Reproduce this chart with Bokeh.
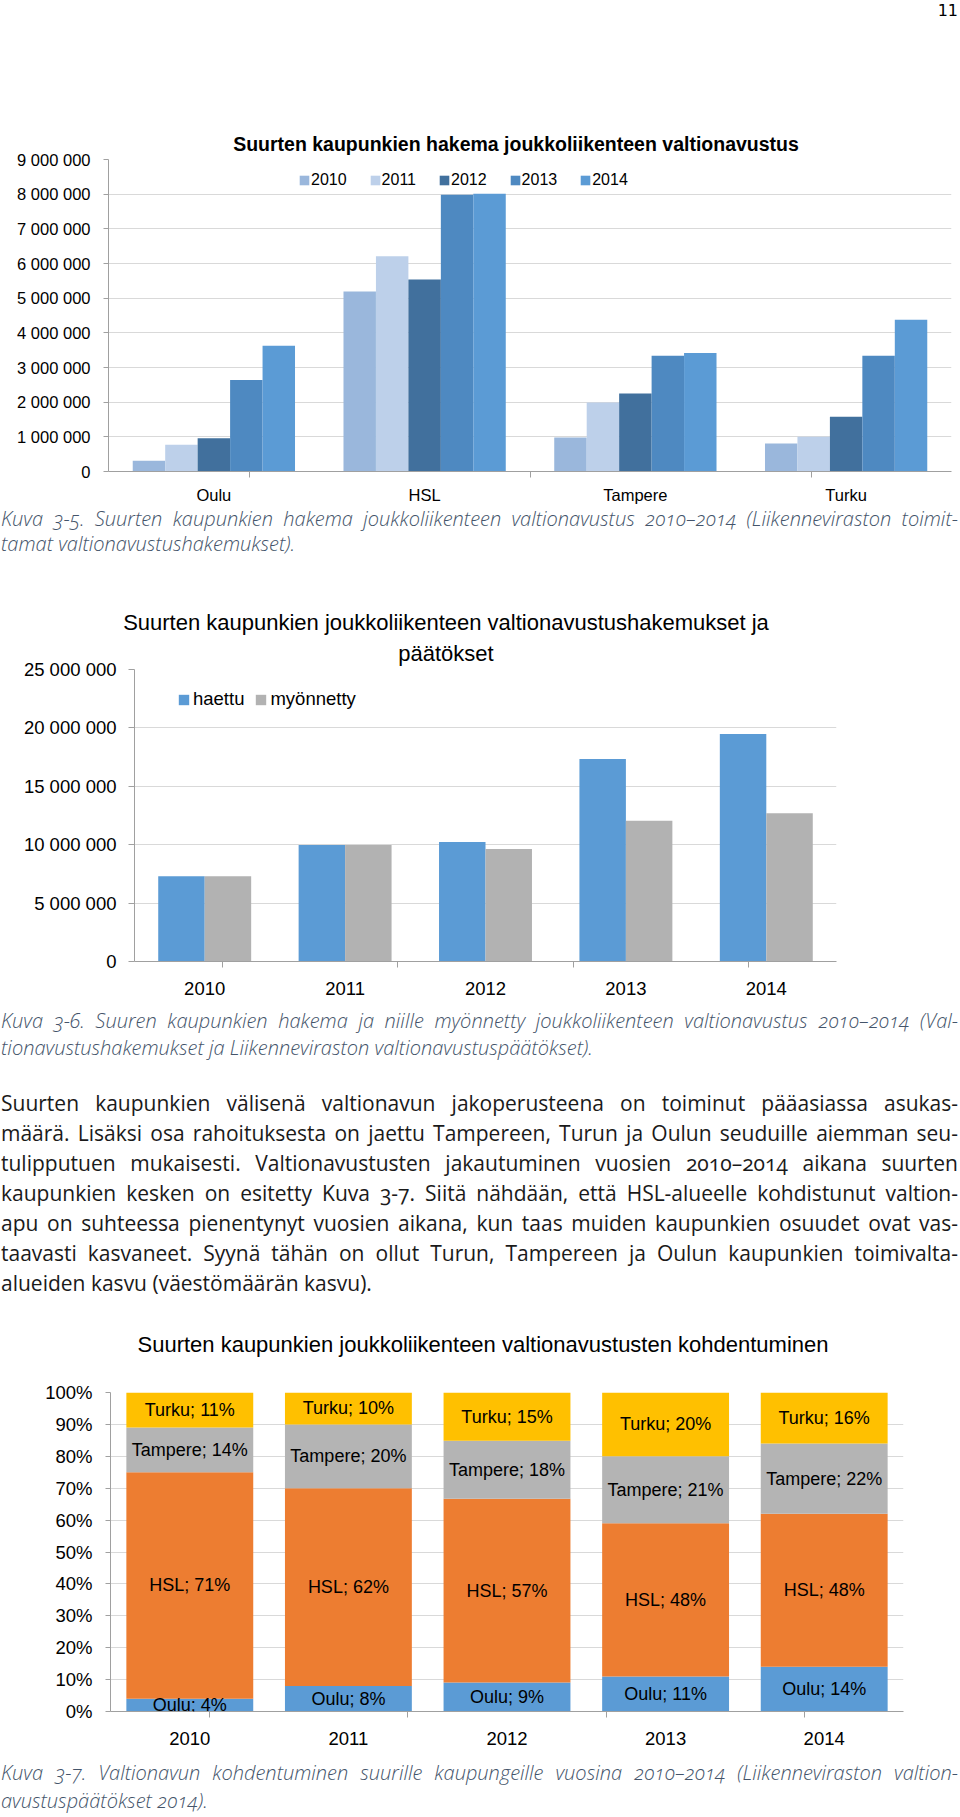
from bokeh.plotting import figure
from bokeh.models import (FactorRange, Range1d, CategoricalAxis, FixedTicker,
                          Legend, LegendItem, LabelSet, ColumnDataSource, Div)
from bokeh.layouts import column, row
from bokeh.transform import dodge
from bokeh.core.properties import value
from bokeh.embed import file_html
from bokeh.resources import INLINE

# ---------------- data: chart 1 (hakema valtionavustus per city, by year)
cities = ["Oulu", "HSL", "Tampere", "Turku"]
years = ["2010", "2011", "2012", "2013", "2014"]
haku_2010 = [310_000, 5_190_000, 980_000, 810_000]
haku_2011 = [770_000, 6_210_000, 1_990_000, 1_000_000]
haku_2012 = [960_000, 5_540_000, 2_250_000, 1_580_000]
haku_2013 = [2_640_000, 7_980_000, 3_340_000, 3_340_000]
haku_2014 = [3_630_000, 8_010_000, 3_420_000, 4_380_000]
y1_ticks = [0, 1_000_000, 2_000_000, 3_000_000, 4_000_000, 5_000_000,
            6_000_000, 7_000_000, 8_000_000, 9_000_000]

# ---------------- data: chart 2 (haettu vs myönnetty)
haettu = [7_290_000, 9_980_000, 10_240_000, 17_330_000, 19_480_000]
myonnetty = [7_290_000, 9_980_000, 9_640_000, 12_040_000, 12_700_000]
y2_ticks = [0, 5_000_000, 10_000_000, 15_000_000, 20_000_000, 25_000_000]

# ---------------- data: chart 3 (kohdentuminen, %)
osuus_oulu = [4, 8, 9, 11, 14]
osuus_hsl = [71, 62, 57, 48, 48]
osuus_tampere = [14, 20, 18, 21, 22]
osuus_turku = [11, 10, 15, 20, 16]
y3_ticks = [0, 10, 20, 30, 40, 50, 60, 70, 80, 90, 100]

FONT = "Liberation Sans"
AX = "#A0A0A0"
GRID = "#D9D9D9"
W = 960


def fmt(v):
    return f"{int(v):,}".replace(",", " ")


def make_fig(factors, ymax, height, left, right, top, bottom, yticks, ylabels,
             font_size, y_standoff, x_standoff, tick_out):
    p = figure(x_range=FactorRange(factors=factors), y_range=Range1d(0, ymax),
               width=W, height=height, min_border_left=left, min_border_right=right,
               min_border_top=top, min_border_bottom=bottom, output_backend="svg",
               toolbar_location=None, x_axis_location=None, y_axis_location="left")
    p.outline_line_color = None
    p.border_fill_color = None
    p.xgrid.visible = False
    p.ygrid.grid_line_color = GRID
    ya = p.yaxis[0]
    ya.ticker = FixedTicker(ticks=yticks)
    ya.major_label_overrides = {t: lab for t, lab in zip(yticks, ylabels)}
    ya.axis_line_color = AX
    ya.major_tick_line_color = AX
    ya.major_tick_out = tick_out
    ya.major_tick_in = 0
    ya.minor_tick_line_color = None
    ya.major_label_standoff = y_standoff
    ya.major_label_text_font = FONT
    ya.major_label_text_font_size = font_size
    ya.major_label_text_color = "black"
    # category-boundary ticks: a second factor range whose factors sit on the boundaries
    n = len(factors)
    bnames = [f"b{i}" for i in range(n + 1)]
    p.extra_x_ranges = {"bnd": FactorRange(factors=bnames, range_padding=-1,
                                           range_padding_units="absolute")}
    bax = CategoricalAxis(x_range_name="bnd", major_label_text_font_size="0px",
                          major_label_standoff=0, major_tick_out=6, major_tick_in=0,
                          axis_line_color=AX, major_tick_line_color=AX,
                          major_label_text_color=None)
    p.add_layout(bax, "below")
    cax = CategoricalAxis(axis_line_color=None, major_tick_line_color=None, major_tick_out=0,
                          major_tick_in=0, major_label_standoff=x_standoff,
                          major_label_text_font=FONT, major_label_text_font_size=font_size,
                          major_label_text_color="black")
    p.add_layout(cax, "below")
    p.margin = 0
    return p


def title_div(height, items):
    # items: (text, center_x, center_y, font, size, weight, line_height, align)
    inner = []
    for txt, cx, cy, font, size, weight, lh, al in items:
        if al == "center":
            pos = f"left:{cx - 450}px;width:900px;text-align:center;"
        else:
            pos = f"right:{W - cx}px;text-align:right;"
        inner.append(f'<div style="position:absolute;top:{cy - lh / 2}px;{pos}'
                     f'font-family:\'{font}\';font-size:{size}px;font-weight:{weight};'
                     f'line-height:{lh}px;color:black;white-space:nowrap;">{txt}</div>')
    html = f'<div style="position:relative;width:{W}px;height:{height}px;">' + "".join(inner) + "</div>"
    return Div(text=html, width=W, height=height, margin=0, styles={"overflow": "visible"})


def block(lines, font, size, lh, color, italic, pad, height, weight=400):
    parts = []
    for i, ln in enumerate(lines):
        al = "left" if i == len(lines) - 1 else "justify"
        parts.append(f'<div style="text-align:{al};text-align-last:{al};white-space:nowrap;">{ln}</div>')
    html = (f'<div style="width:957px;margin-left:1px;font-family:\'{font}\';font-size:{size}px;'
            f'line-height:{lh}px;color:{color};font-style:{"italic" if italic else "normal"};'
            f'font-weight:{weight};padding-top:{pad}px;font-variant-numeric:oldstyle-nums;">'
            + "".join(parts) + "</div>")
    return Div(text=html, width=W, height=height, margin=0, styles={"overflow": "visible"})


# ================= chart 1
head1 = title_div(150, [("11", 958, 11, "DejaVu Sans", 16, 400, 18, "right"),
                        ("Suurten kaupunkien hakema joukkoliikenteen valtionavustus",
                         516, 144, FONT, 19.5, 700, 24, "center")])
p1 = make_fig(cities, 9_000_000, 356, 108, 9, 9, 35, y1_ticks,
              [fmt(t) for t in y1_ticks], "16.5px", 13, 8, 5)
src1 = ColumnDataSource(dict(city=cities, y2010=haku_2010, y2011=haku_2011,
                             y2012=haku_2012, y2013=haku_2013, y2014=haku_2014))
pal1 = ["#9AB7DC", "#BDD0EA", "#41709D", "#4E89C1", "#5B9BD5"]
bw1 = 0.154
items1 = []
for i, y in enumerate(years):
    r = p1.vbar(x=dodge("city", (i - 2) * bw1, range=p1.x_range), top="y" + y, width=bw1,
                source=src1, fill_color=pal1[i], line_color=None)
    items1.append(LegendItem(label=y, renderers=[r]))
leg1 = Legend(items=items1, orientation="horizontal", location=(190, 282), glyph_width=12,
              glyph_height=12, label_standoff=1, spacing=22, padding=0, margin=0,
              border_line_color=None, background_fill_alpha=0, label_text_font=FONT,
              label_text_font_size="16px", label_height=12, label_text_color="black")
p1.add_layout(leg1)

CAPC = "#44546A"
cap1 = block(["Kuva 3-5. Suurten kaupunkien hakema joukkoliikenteen valtionavustus 2010–2014 (Liikenneviraston toimit-",
              "tamat valtionavustushakemukset)."], "Open Sans", 20, 25, CAPC, True, 0, 84, 300)

# ================= chart 2
head2 = title_div(66, [("Suurten kaupunkien joukkoliikenteen valtionavustushakemukset ja",
                        446, 32, FONT, 22, 400, 31, "center"),
                       ("päätökset", 446, 63, FONT, 22, 400, 31, "center")])
p2 = make_fig(years, 25_000_000, 350, 134, 124, 13, 45, y2_ticks,
              [fmt(t) for t in y2_ticks], "18.5px", 12, 14, 6)
src2 = ColumnDataSource(dict(year=years, haettu=haettu, myonnetty=myonnetty))
bw2 = 0.331
r_h = p2.vbar(x=dodge("year", -bw2 / 2, range=p2.x_range), top="haettu", width=bw2,
              source=src2, fill_color="#5B9BD5", line_color=None)
r_m = p2.vbar(x=dodge("year", bw2 / 2, range=p2.x_range), top="myonnetty", width=bw2,
              source=src2, fill_color="#B2B2B2", line_color=None)
leg2 = Legend(items=[LegendItem(label="haettu", renderers=[r_h]),
                     LegendItem(label="myönnetty", renderers=[r_m])],
              orientation="horizontal", location=(43, 251), glyph_width=13, glyph_height=13,
              label_standoff=3, spacing=10, padding=0, margin=0, border_line_color=None,
              background_fill_alpha=0, label_text_font=FONT, label_text_font_size="18.5px",
              label_height=13, label_text_color="black")
p2.add_layout(leg2)

cap2 = block(["Kuva 3-6. Suuren kaupunkien hakema ja niille myönnetty joukkoliikenteen valtionavustus 2010–2014 (Val-",
              "tionavustushakemukset ja Liikenneviraston valtionavustuspäätökset)."], "Open Sans", 20, 27,
             CAPC, True, 1, 82, 300)
para = block(["Suurten kaupunkien välisenä valtionavun jakoperusteena on toiminut pääasiassa asukas-",
              "määrä. Lisäksi osa rahoituksesta on jaettu Tampereen, Turun ja Oulun seuduille aiemman seu-",
              "tulipputuen mukaisesti. Valtionavustusten jakautuminen vuosien 2010–2014 aikana suurten",
              "kaupunkien kesken on esitetty Kuva 3-7. Siitä nähdään, että HSL-alueelle kohdistunut valtion-",
              "apu on suhteessa pienentynyt vuosien aikana, kun taas muiden kaupunkien osuudet ovat vas-",
              "taavasti kasvaneet. Syynä tähän on ollut Turun, Tampereen ja Oulun kaupunkien toimivalta-",
              "alueiden kasvu (väestömäärän kasvu)."], "Open Sans", 21, 30, "#1A1A1A", False, 0, 210)

# ================= chart 3
head3 = title_div(77, [("Suurten kaupunkien joukkoliikenteen valtionavustusten kohdentuminen",
                        483, 47, FONT, 22, 400, 26, "center")])
p3 = make_fig(years, 100, 380, 110, 57, 17, 44, y3_ticks,
              [f"{t}%" for t in y3_ticks], "18.5px", 13, 14, 5)
series = [("Oulu", osuus_oulu), ("HSL", osuus_hsl), ("Tampere", osuus_tampere),
          ("Turku", osuus_turku)]
cols3 = {"year": years}
lx, ly, lt = [], [], []
for j, y in enumerate(years):
    tot = sum(s[1][j] for s in series)
    base = 0.0
    for name, vals in series:
        share = vals[j] / tot * 100
        cols3.setdefault(name, []).append(share)
        lx.append(y)
        ly.append(base + share / 2)
        lt.append(f"{name}; {vals[j]}%")
        base += share
src3 = ColumnDataSource(cols3)
p3.vbar_stack([s[0] for s in series], x="year", width=0.8, source=src3,
              fill_color=["#5B9BD5", "#ED7D31", "#B4B4B4", "#FFC000"], line_color=None)
lab_src = ColumnDataSource(dict(x=lx, y=ly, t=lt))
p3.add_layout(LabelSet(x="x", y="y", text="t", source=lab_src, text_align="center",
                       text_baseline="middle", text_font=value(FONT),
                       text_font_size=value("18px"), text_color="black"))

cap3 = block(["Kuva 3-7. Valtionavun kohdentuminen suurille kaupungeille vuosina 2010–2014 (Liikenneviraston valtion-",
              "avustuspäätökset 2014)."], "Open Sans", 20, 28, CAPC, True, 4, 62, 300)

page = column(head1, row(p1), cap1, head2, row(p2), cap2, para, head3, row(p3), cap3, spacing=0)
open("out.html", "w", encoding="utf-8").write(file_html(page, INLINE))
